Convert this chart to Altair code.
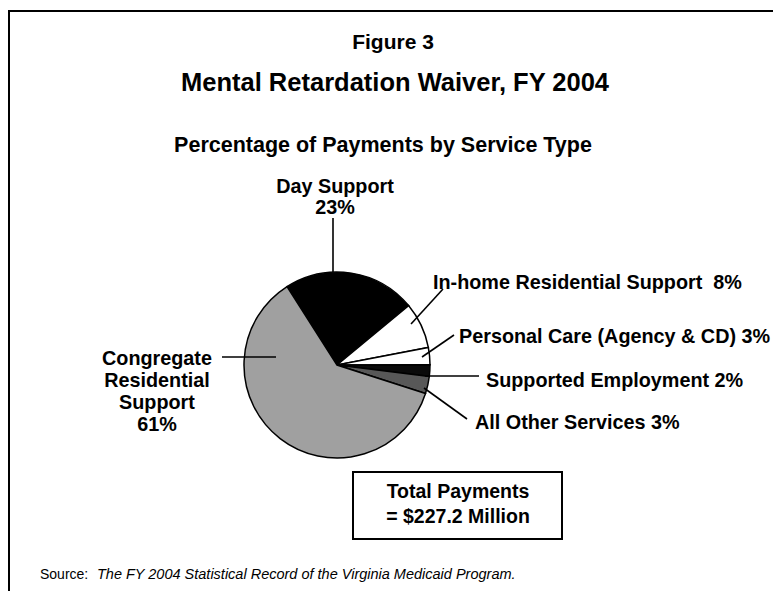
import math
import altair as alt
import pandas as pd

# ---------------- data ----------------
categories = [
    "Day Support",
    "In-home Residential Support",
    "Personal Care (Agency & CD)",
    "Supported Employment",
    "All Other Services",
    "Congregate Residential Support",
]
percents = [23, 8, 3, 2, 3, 61]
slice_colors = ["#000000", "#ffffff", "#ffffff", "#0a0a0a", "#585858", "#a0a0a0"]

figure_no = "Figure 3"
title = "Mental Retardation Waiver, FY 2004"
subtitle = "Percentage of Payments by Service Type"
total_lines = ["Total Payments", "= $227.2 Million"]
source_lead = "Source:"
source_text = "The FY 2004 Statistical Record of the Virginia Medicaid Program."

# ---------------- layout ----------------
W, H = 765, 583
OFF = 8  # page margin
FONT = "Liberation Sans"
CX, CY, R = 337 - OFF, 365 - OFF, 93
START = math.radians(-32.5)
NBSP = "\u00a0"

pie_df = pd.DataFrame({"cat": categories, "pct": percents, "idx": range(len(categories))})

pie = alt.Chart(pie_df).mark_arc(radius=R, stroke="black", strokeWidth=1.5).encode(
    theta=alt.Theta("pct:Q", stack=True,
                    scale=alt.Scale(domain=[0, sum(percents)], range=[START, START + 2 * math.pi])),
    color=alt.Color("cat:N", scale=alt.Scale(domain=categories, range=slice_colors), legend=None),
    order=alt.Order("idx:Q"),
    x=alt.value(CX),
    y=alt.value(CY),
)

# label texts built from the data
lab = {c: p for c, p in zip(categories, percents)}
label_texts = {
    "Day Support": ["Day Support", f"{lab['Day Support']}%"],
    "In-home Residential Support": [f"In-home Residential Support{NBSP} {lab['In-home Residential Support']}%"],
    "Personal Care (Agency & CD)": [f"Personal Care (Agency & CD) {lab['Personal Care (Agency & CD)']}%"],
    "Supported Employment": [f"Supported Employment {lab['Supported Employment']}%"],
    "All Other Services": [f"All Other Services {lab['All Other Services']}%"],
    "Congregate Residential Support": ["Congregate", "Residential", "Support",
                                       f"{lab['Congregate Residential Support']}%"],
}
# anchor (page coords) and alignment per label
label_layout = {
    "Day Support": (335, 187, "center", 21),
    "In-home Residential Support": (433, 283, "left", 0),
    "Personal Care (Agency & CD)": (459, 337, "left", 0),
    "Supported Employment": (486, 381, "left", 0),
    "All Other Services": (475, 423, "left", 0),
    "Congregate Residential Support": (157, 359, "center", 22),
}
leader_layout = {
    "Day Support": (333, 218, 333, 272),
    "In-home Residential Support": (443, 289, 411, 324),
    "Personal Care (Agency & CD)": (454, 335, 422, 357),
    "Supported Employment": (425, 376, 479, 376),
    "All Other Services": (424, 388, 467, 419),
    "Congregate Residential Support": (222, 357, 276, 357),
}

rows = []
for c in categories:
    x0, y0, al, lh = label_layout[c]
    for i, t in enumerate(label_texts[c]):
        rows.append({"x": x0 - OFF, "y": y0 - OFF + i * lh, "t": t, "al": al})
lab_df = pd.DataFrame(rows)

def text_layer(df, align, size, weight="bold", style="normal"):
    return alt.Chart(df).mark_text(
        align=align, baseline="middle", font=FONT, fontSize=size,
        fontWeight=weight, fontStyle=style, color="black",
    ).encode(
        x=alt.X("x:Q", scale=None, axis=None),
        y=alt.Y("y:Q", scale=None, axis=None),
        text="t:N",
    )

lab_center = text_layer(lab_df[lab_df.al == "center"], "center", 19.8)
lab_left = text_layer(lab_df[lab_df.al == "left"], "left", 19.8)

lead_df = pd.DataFrame([
    {"x": a - OFF, "y": b - OFF, "x2": c - OFF, "y2": d - OFF}
    for a, b, c, d in leader_layout.values()
])
leaders = alt.Chart(lead_df).mark_rule(color="black", strokeWidth=1.6).encode(
    x=alt.X("x:Q", scale=None, axis=None), y=alt.Y("y:Q", scale=None, axis=None),
    x2="x2:Q", y2="y2:Q",
)

head1 = text_layer(pd.DataFrame([{"x": 393 - OFF, "y": 43 - OFF, "t": figure_no}]), "center", 21)
head2 = text_layer(pd.DataFrame([{"x": 395 - OFF, "y": 83 - OFF, "t": title}]), "center", 25.5)
head3 = text_layer(pd.DataFrame([{"x": 383 - OFF, "y": 146 - OFF, "t": subtitle}]), "center", 21.5)

total_df = pd.DataFrame([{"x": 458 - OFF, "y": 492 - OFF + i * 25, "t": t} for i, t in enumerate(total_lines)])
total_txt = text_layer(total_df, "center", 19.5)
total_box = alt.Chart(pd.DataFrame({"a": [0]})).mark_rect(
    fill="white", stroke="black", strokeWidth=2
).encode(x=alt.value(353 - OFF), x2=alt.value(562 - OFF), y=alt.value(472 - OFF), y2=alt.value(539 - OFF))

src1 = text_layer(pd.DataFrame([{"x": 40 - OFF, "y": 575 - OFF, "t": source_lead}]), "left", 14, weight="normal")
src2 = text_layer(pd.DataFrame([{"x": 97 - OFF, "y": 575 - OFF, "t": source_text}]), "left", 14.5,
                  weight="normal", style="italic")

frame = alt.Chart(pd.DataFrame({"a": [0]})).mark_rect(
    fill="white", stroke="black", strokeWidth=2
).encode(x=alt.value(9 - OFF), x2=alt.value(820), y=alt.value(11 - OFF), y2=alt.value(640))

chart = alt.layer(
    frame, pie, leaders, lab_center, lab_left, head1, head2, head3,
    total_box, total_txt, src1, src2,
).properties(
    width=W, height=H, padding=0, autosize=alt.AutoSizeParams(type="none"),
    background="white",
).configure_view(stroke=None)

chart.save("out.html", embed_options={"renderer": "svg", "actions": False})
